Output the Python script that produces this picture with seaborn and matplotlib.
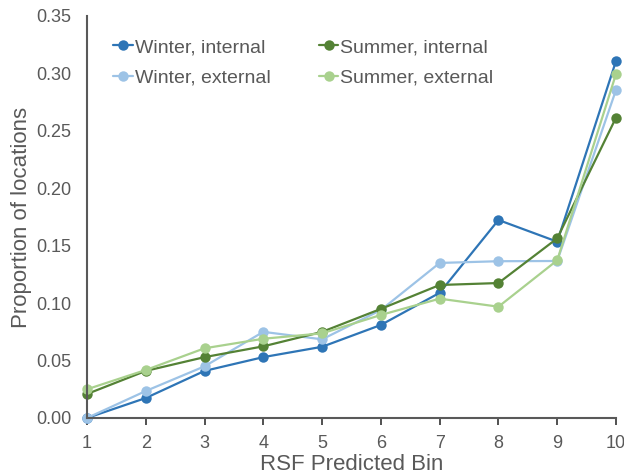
import matplotlib
matplotlib.use("Agg")
import matplotlib.pyplot as plt
import seaborn as sns
import pandas as pd

bins = [1, 2, 3, 4, 5, 6, 7, 8, 9, 10]
winter_internal = [0.000, 0.0174, 0.041, 0.053, 0.062, 0.081, 0.109, 0.1724, 0.1535, 0.3108]
winter_external = [0.000, 0.0235, 0.045, 0.075, 0.0685, 0.094, 0.135, 0.1365, 0.1367, 0.2856]
summer_internal = [0.0209, 0.041, 0.053, 0.0624, 0.075, 0.095, 0.1158, 0.1175, 0.1564, 0.2615]
summer_external = [0.025, 0.0418, 0.0607, 0.069, 0.0737, 0.0897, 0.1039, 0.0969, 0.1373, 0.2995]

series_names = ["Winter, internal", "Winter, external", "Summer, internal", "Summer, external"]
series_values = [winter_internal, winter_external, summer_internal, summer_external]
colors = ["#2E75B6", "#9DC3E6", "#548235", "#A9D18E"]

rows = []
for name, vals in zip(series_names, series_values):
    for b, v in zip(bins, vals):
        rows.append({"bin": b, "value": v, "series": name})
df = pd.DataFrame(rows)

sns.set_theme(style="white")
plt.rcParams["font.family"] = ["Liberation Sans", "DejaVu Sans"]

fig = plt.figure(figsize=(6.24, 4.76), dpi=100)
ax = fig.add_axes([87/624, 1-418/476, (616-87)/624, (418-16)/476])

sns.lineplot(data=df, x="bin", y="value", hue="series", hue_order=series_names,
             palette=colors, marker="o", markersize=7.5, markeredgewidth=0,
             linewidth=1.6, ax=ax, legend=True)
for line in ax.lines:
    line.set_clip_on(False)

ax.set_xlim(1, 10)
ax.set_ylim(0, 0.35)
ax.set_xticks(bins)
yt = [0, 0.05, 0.10, 0.15, 0.20, 0.25, 0.30, 0.35]
ax.set_yticks(yt)
ax.set_yticklabels([f"{t:.2f}" for t in yt])
gray = "#595959"
for s in ["top", "right"]:
    ax.spines[s].set_visible(False)
for s in ["left", "bottom"]:
    ax.spines[s].set_color(gray)
    ax.spines[s].set_linewidth(1.5)
ax.tick_params(axis="x", direction="out", length=5, width=1.2, color="#333333",
               labelsize=13, labelcolor=gray, pad=7, bottom=True)
ax.tick_params(axis="y", length=0, labelsize=13, labelcolor=gray, pad=11)
ax.set_xlabel("RSF Predicted Bin", fontsize=16, color=gray, labelpad=2)
ax.set_ylabel("Proportion of locations", fontsize=16, color=gray, labelpad=3)

handles, labels = ax.get_legend_handles_labels()
leg = ax.legend(handles, labels, ncol=2, loc="upper left", bbox_to_anchor=(0.035, 0.963),
                frameon=False, fontsize=14, handlelength=1.0, handletextpad=0.1,
                columnspacing=2.5, labelspacing=0.65, borderaxespad=0)
for t in leg.get_texts():
    t.set_color(gray)

fig.savefig("out.png", dpi=100)
